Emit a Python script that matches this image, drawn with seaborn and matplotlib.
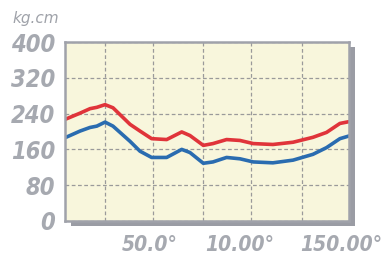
import numpy as np
import pandas as pd
import matplotlib
matplotlib.use("Agg")
import matplotlib.pyplot as plt
from matplotlib.patches import Rectangle
from matplotlib import font_manager
import seaborn as sns

# values (x in 0..100 across the plot box)
x_pos = [0, 5.3, 8.8, 11.2, 14.1, 16.9, 22.9, 26.4, 30.5, 35.8, 41.1, 44.0,
         48.7, 52.1, 56.9, 61.6, 66.3, 73.2, 80.3, 87.3, 92.1, 96.8, 100]
red_vals = [227, 241, 251, 254, 260, 253, 216, 201, 184, 182, 199, 191,
            169, 173, 182, 180, 173, 171, 176, 187, 198, 218, 222]
blue_vals = [186, 201, 209, 212, 221, 212, 178, 156, 142, 142, 160, 153,
             129, 132, 142, 139, 132, 130, 136, 149, 164, 184, 190]
y_ticks = [0, 80, 160, 240, 320, 400]
x_grid = [14.1, 31.0, 48.6, 65.5, 83.5]
x_label_pos = [29.9, 61.5, 97.2]
x_labels = ["50.0°", "10.00°", "150.00°"]

df = pd.DataFrame({"x": x_pos * 2,
                   "val": red_vals + blue_vals,
                   "s": ["red"] * len(x_pos) + ["blue"] * len(x_pos)})

sns.set_style("white")
plt.rcParams["font.family"] = ["DejaVu Sans"]

# condensed bold italic for the tick numbers, if it is there
narrow = None
for f in font_manager.fontManager.ttflist:
    if "Condensed" in f.fname and "BoldOblique" in f.fname and "DejaVuSans" in f.fname:
        narrow = f.fname
tick_font = font_manager.FontProperties(fname=narrow) if narrow else \
    font_manager.FontProperties(family="DejaVu Sans", weight="bold", style="italic")

W, H = 383, 256
fig = plt.figure(figsize=(W / 100, H / 100), dpi=100)
fig.patch.set_facecolor("white")

l, b, w, h = 65, 35, 284, 179
# drop shadow
fig.patches.append(Rectangle(((l + 6) / W, (b - 5) / H), w / W, h / H,
                             transform=fig.transFigure, facecolor="#9a9ca4",
                             edgecolor="none", zorder=0))
ax = fig.add_axes([l / W, b / H, w / W, h / H], zorder=1)
ax.set_facecolor("#f8f6dc")

sns.lineplot(data=df, x="x", y="val", hue="s",
             palette={"red": "#e0343a", "blue": "#2a6cb0"},
             linewidth=2.6, legend=False, ax=ax)

ax.set_xlim(0, 100)
ax.set_ylim(0, 400)
ax.set_xticks(x_grid)
ax.set_xticklabels([])
ax.set_xticks(x_label_pos, minor=True)
ax.set_xticklabels(x_labels, minor=True)
ax.set_yticks(y_ticks)
ax.set_yticklabels([str(v) for v in y_ticks])
ax.grid(True, which="major", color="#9a9a9a", linestyle=(0, (3, 2)), linewidth=0.9)
ax.tick_params(which="both", length=0)
ax.tick_params(axis="y", pad=7, labelcolor="#a6a9b0")
ax.tick_params(axis="x", which="minor", pad=10, labelcolor="#a6a9b0")
for t in ax.get_yticklabels():
    t.set_fontproperties(tick_font)
    t.set_fontsize(17)
for t in ax.get_xticklabels(minor=True):
    t.set_fontproperties(tick_font)
    t.set_fontsize(15)
ax.set_xlabel("")
ax.set_ylabel("")
for s in ax.spines.values():
    s.set_visible(True)
    s.set_color("#a0a2aa")
    s.set_linewidth(1.8)

fig.text(12 / W, 1 - 19 / H, "kg.cm", fontsize=11, style="italic",
         color="#9fa2a9", va="center", ha="left")

fig.savefig("out.png", dpi=100)
